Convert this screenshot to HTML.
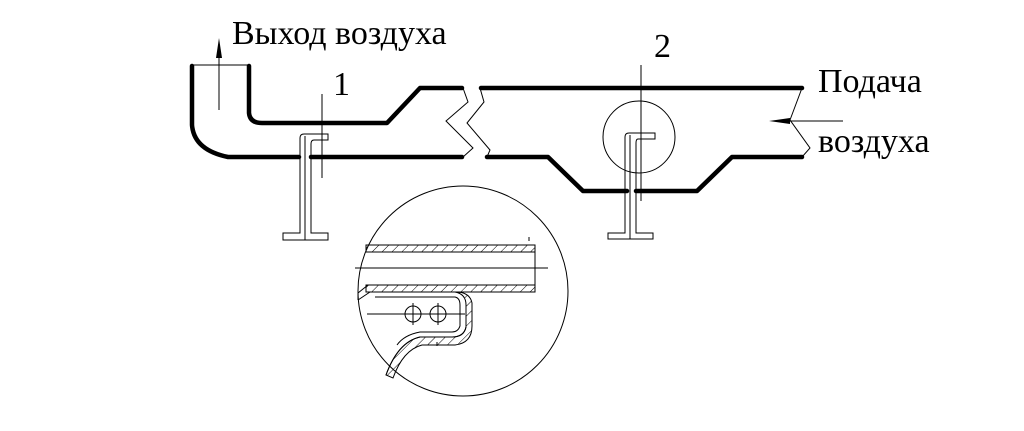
<!DOCTYPE html>
<html><head><meta charset="utf-8"><style>
html,body{margin:0;padding:0;background:#fff;width:1024px;height:431px;overflow:hidden}
svg{display:block}
text{font-family:"Liberation Serif",serif;fill:#000}
</style></head><body>
<svg width="1024" height="431" viewBox="0 0 1024 431" xmlns="http://www.w3.org/2000/svg">
<defs>
<pattern id="h" width="7" height="7" patternUnits="userSpaceOnUse" patternTransform="rotate(45)">
<line x1="0" y1="0" x2="0" y2="7" stroke="#000" stroke-width="1"/>
</pattern>
</defs>
<g fill="none" stroke="#000" stroke-width="4.5" stroke-linecap="round" stroke-linejoin="round">
<path d="M192,66 V125 Q194,150 228,157 H299"/>
<path d="M249,66 V113 Q250,123 262,123 H387 L420,88 H462"/>
<line x1="311" y1="157" x2="462" y2="157"/>
<line x1="481" y1="88" x2="802" y2="88"/>
<path d="M487,157 H548 L583,191 H627"/>
<path d="M636,191 H697 L732,157 H802"/>
</g>
<g fill="none" stroke="#000" stroke-width="1">
<line x1="192" y1="65" x2="249" y2="65"/>
<line x1="219" y1="50" x2="219" y2="110"/>
<polyline points="463,88 468,102 446,121 473,148 463,157"/>
<polyline points="480,88 484,102 467,123 490,150 487,157"/>
<polyline points="802,88 790,120 810,148 802,157"/>
<line x1="790" y1="121" x2="843" y2="121"/>
<line x1="322" y1="94" x2="322" y2="178"/>
<line x1="641" y1="65" x2="641" y2="201"/>
<circle cx="639" cy="137" r="36"/>
<path d="M300,233 V138 Q300,134 304,134 H328 V140 H314 Q311,140 311,144 V233 H328 V240 H283 V233 Z"/>
<line x1="305" y1="136" x2="305" y2="240"/>
<path d="M625,233 V137 Q625,133 629,133 H655 V139 H638 Q636,139 636,143 V233 H653 V239 H608 V233 Z"/>
<line x1="630" y1="135" x2="630" y2="239"/>
<circle cx="463" cy="291" r="105"/>
<rect x="366" y="245" width="169" height="7" fill="url(#h)"/>
<rect x="366" y="285" width="169" height="7" fill="url(#h)"/>
<line x1="535" y1="245" x2="535" y2="292"/>
<line x1="355" y1="268" x2="548" y2="268"/>
<line x1="529" y1="237" x2="529" y2="241"/>
<path d="M358,293 L368,285 M358,300 L370,292"/>
<path d="M358,293 L358,300"/>
<path d="M370,292 H455 Q466,294 466,305 V327 Q464,337 452,337 H420 Q398,342 386,375 L393,378 Q403,350 422,345 H455 Q472,343 472,326 V303 Q470,293 458,292" fill="url(#h)"/>
<path d="M375,297 H455 Q460,298 460,305 V326 Q458,332 452,332 H420 Q404,335 397,345" fill="#fff"/>
<path d="M466,305 V327 Q464,337 452,337 H420 Q398,342 386,375" fill="none"/>
<line x1="367" y1="314" x2="465" y2="314"/>
<circle cx="413" cy="314" r="8"/>
<circle cx="438" cy="314" r="8"/>
<line x1="413" y1="303" x2="413" y2="325"/>
<line x1="438" y1="303" x2="438" y2="325"/>
<line x1="437" y1="342" x2="437" y2="346"/>
</g>
<path d="M769,121 L790,118 L790,124 Z" fill="#000"/>
<path d="M219,38 L216,58 L222,58 Z" fill="#000"/>
<text x="232" y="44" font-size="34">Выход воздуха</text>
<text x="333" y="95" font-size="34">1</text>
<text x="654" y="57" font-size="34">2</text>
<text x="818" y="92" font-size="34">Подача</text>
<text x="818" y="152" font-size="34">воздуха</text>
</svg>
</body></html>
